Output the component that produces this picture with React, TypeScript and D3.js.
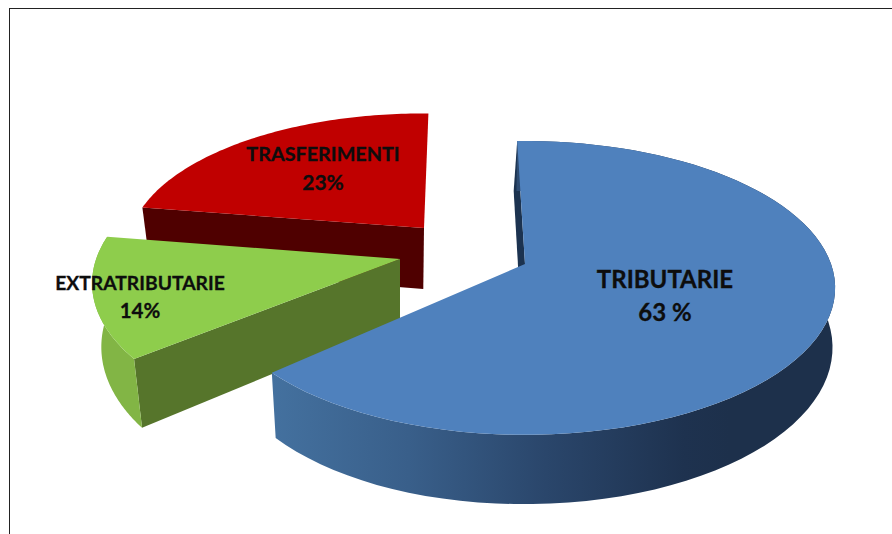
import React from "react";
import * as d3 from "d3";

// Data
const categories = ["TRIBUTARIE", "EXTRATRIBUTARIE", "TRASFERIMENTI"];
const shares = [63, 14, 23];
const valueLabels = ["63 %", "14%", "23%"];

// Styling and per-slice placement (exploded pie in perspective)
const topColors = ["#4f81bd", "#8ecd4c", "#c00000"];
const rimColors = ["url(#blueRim)", "#82b545", "none"];
const cutColors = ["#1c3350", "#56752b", "#4f0000"];
const apexX = [525, 400, 424];
const apexY = [264, 259, 228];
const startDeg = [-1.7, 232, 279.1];
const sweepAdjust = [2.3, -3.4, -0.9];
const radiusScale = [1, 0.993, 0.955];
const verticalScale = [1, 1.03, 0.97];
const sliceDepth = [58, 62, 61];
const labelX = [665, 140, 323];
const labelY = [[288, 321], [290, 318], [161, 190]];
const nameSize = [24, 19.3, 19.8];
const valueSize = [24, 20.5, 21];
const drawOrder = [2, 1, 0];

const RX = 306;
const KY = 143;
const PERSP = 0.163;
const VANISH_X = 400;
const CONVERGE_LEFT = 0.03;
const CONVERGE_RIGHT = 0.006;

const pie = d3.pie<number>().sort(null).value((d) => d);
const arcs = pie(shares);

function project(i: number, deg: number, r: number, z: number, converge?: number): [number, number] {
  const a = (deg * Math.PI) / 180;
  const X = r * Math.sin(a);
  const Y = r * Math.cos(a);
  const s = 1 / (1 + PERSP * Y);
  const x = apexX[i] + RX * X * s;
  const y = apexY[i] - KY * verticalScale[i] * Y * s + z * sliceDepth[i] * s;
  const c = converge ?? (x < VANISH_X ? CONVERGE_LEFT : CONVERGE_RIGHT);
  return [x + (VANISH_X - x) * c * z, y];
}

const line = d3.line<[number, number]>();

function slicePaths(i: number) {
  const sweep = ((arcs[i].endAngle - arcs[i].startAngle) * 180) / Math.PI + sweepAdjust[i];
  const a0 = startDeg[i];
  const r = radiusScale[i];
  const angles = d3.range(0, 81).map((k) => a0 + (sweep * k) / 80);
  const rimTop = angles.map((a) => project(i, a, r, 0));
  const rimBottom = angles.map((a) => project(i, a, r, 1));
  const apexTop = project(i, 0, 0, 0);
  return {
    top: line([apexTop, ...rimTop])! + "Z",
    rim: line([...rimTop, ...rimBottom.slice().reverse()])! + "Z",
    startCut:
      line([
        apexTop,
        project(i, a0, r, 0),
        project(i, a0, r, 1, CONVERGE_LEFT),
        project(i, 0, 0, 1, CONVERGE_LEFT),
      ])! + "Z",
  };
}

const fontFamily = "Lato, 'Noto Sans', sans-serif";

export default function App() {
  return (
    <svg
      width={892}
      height={534}
      style={{ position: "absolute", left: 0, top: 0, background: "#fff" }}
    >
      <defs>
        <linearGradient id="blueRim" gradientUnits="userSpaceOnUse" x1={271} x2={730} y1={0} y2={0}>
          <stop offset="0" stopColor="#44719f" />
          <stop offset="0.3" stopColor="#395f8a" />
          <stop offset="0.6" stopColor="#2a466b" />
          <stop offset="0.9" stopColor="#1e324f" />
          <stop offset="1" stopColor="#1d304b" />
        </linearGradient>
      </defs>
      <line x1={9} y1={8.5} x2={892} y2={8.5} stroke="#222" strokeWidth={1} />
      <line x1={9.5} y1={8} x2={9.5} y2={534} stroke="#222" strokeWidth={1} />
      {drawOrder.map((i) => {
        const p = slicePaths(i);
        return (
          <g key={categories[i]}>
            <path d={p.startCut} fill={cutColors[i]} />
            <path d={p.rim} fill={rimColors[i]} />
            <path d={p.top} fill={topColors[i]} />
          </g>
        );
      })}
      {categories.map((c, i) => (
        <g
          key={c}
          textAnchor="middle"
          fontFamily={fontFamily}
          fontWeight={700}
          fill="#0d0d0d"
          stroke="#0d0d0d"
          strokeWidth={0.3}
        >
          <text x={labelX[i]} y={labelY[i][0]} fontSize={nameSize[i]}>{c}</text>
          <text x={labelX[i]} y={labelY[i][1]} fontSize={valueSize[i]}>{valueLabels[i]}</text>
        </g>
      ))}
    </svg>
  );
}
